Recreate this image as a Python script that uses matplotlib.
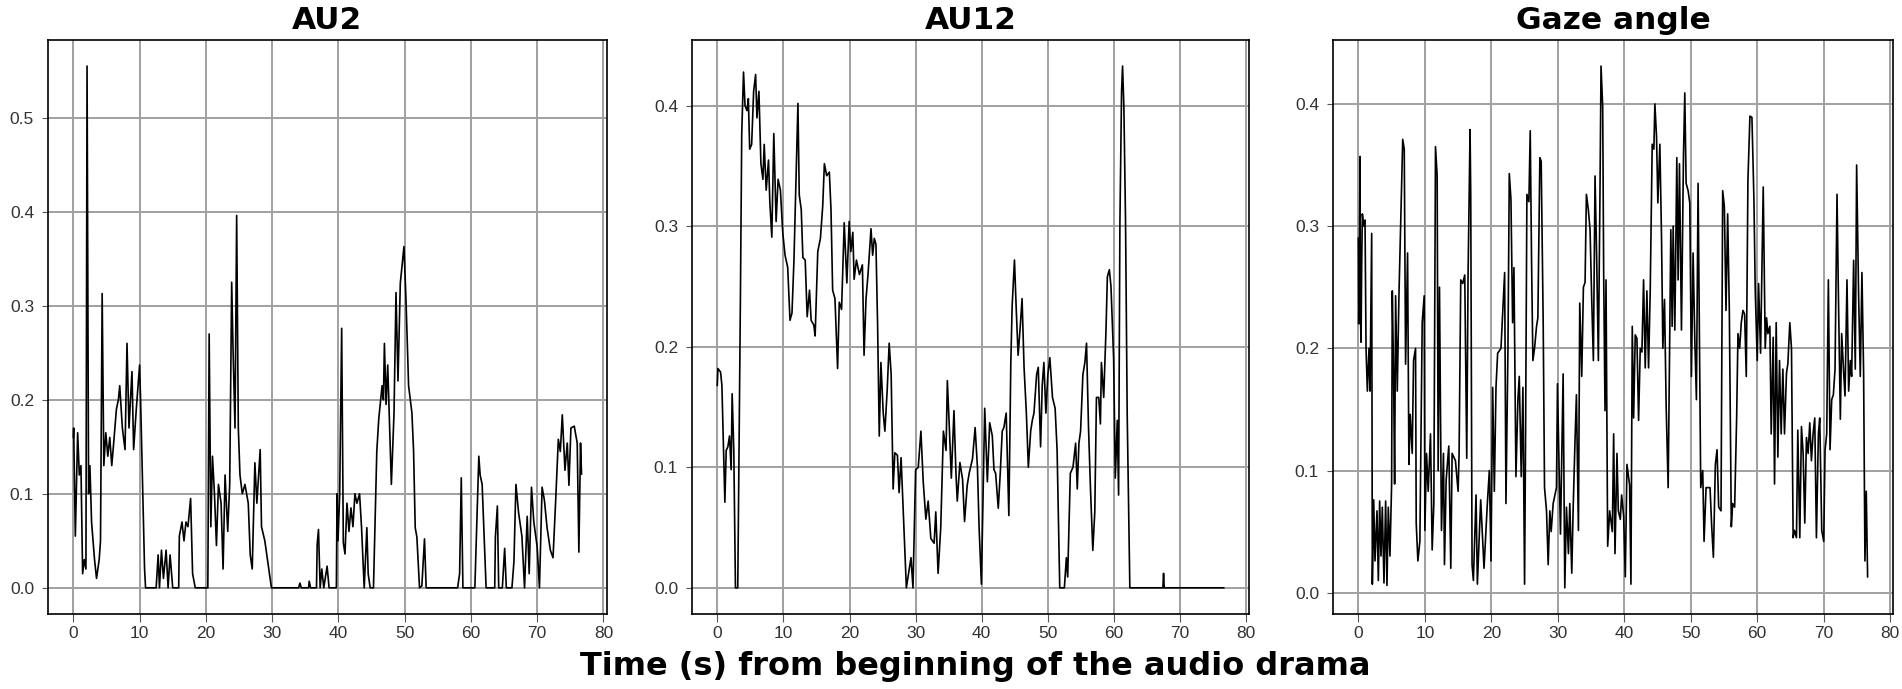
import matplotlib.pyplot as plt

# AU2 intensity over time
t_au2 = [0.0, 0.05, 0.3, 0.65, 0.9, 1.15, 1.4, 1.65, 1.9, 2.07, 2.3, 2.5, 2.75, 3.2, 3.5, 3.9, 4.1, 4.35,
         4.6, 4.9, 5.2, 5.5, 5.8, 6.1, 6.5, 6.8, 7.0, 7.4, 7.8, 8.1, 8.4, 8.85, 9.1, 9.5, 10.0, 10.15,
         10.75, 10.9, 12.5, 12.8, 13.0, 13.3, 13.6, 14.0, 14.3, 14.6, 15.0, 15.9, 16.0, 16.4, 16.7, 17.0,
         17.3, 17.7, 18.0, 18.4, 20.3, 20.5, 20.75, 21.0, 21.3, 21.6, 21.9, 22.3, 22.6, 22.9, 23.3, 23.6,
         23.9, 24.1, 24.4, 24.65, 24.9, 25.15, 25.5, 25.9, 26.4, 26.7, 27.0, 27.4, 27.7, 28.2, 28.4, 28.9,
         29.4, 29.9, 34.0, 34.2, 34.4, 35.5, 35.6, 35.8, 36.7, 36.8, 37.0, 37.25, 37.5, 37.8, 38.3, 38.6,
         39.7, 39.8, 39.95, 40.2, 40.5, 40.75, 41.0, 41.3, 41.6, 41.9, 42.2, 42.5, 42.8, 43.2, 43.5, 43.9,
         44.3, 44.5, 44.8, 45.3, 45.8, 46.1, 46.6, 46.8, 46.95, 47.2, 47.45, 47.8, 48.0, 48.4, 48.7, 49.0,
         49.35, 49.9, 50.2, 50.6, 51.1, 51.35, 51.6, 51.85, 52.25, 52.6, 53.0, 53.25, 58.0, 58.3, 58.55,
         58.8, 60.6, 61.2, 61.4, 61.7, 61.95, 62.3, 63.6, 63.7, 64.0, 64.2, 64.75, 65.1, 65.35, 66.2, 66.5,
         66.8, 67.2, 67.7, 68.1, 68.5, 68.8, 69.15, 69.5, 70.0, 70.35, 70.75, 71.1, 71.5, 72.0, 72.4, 72.8,
         73.2, 73.5, 73.8, 74.2, 74.55, 74.8, 75.1, 75.6, 76.05, 76.3, 76.55, 76.7]
au2 = [0.16, 0.17, 0.055, 0.165, 0.12, 0.13, 0.015, 0.03, 0.02, 0.555, 0.1, 0.13, 0.07, 0.03, 0.01, 0.03,
       0.05, 0.313, 0.13, 0.165, 0.14, 0.16, 0.13, 0.155, 0.19, 0.2, 0.215, 0.17, 0.147, 0.26, 0.17, 0.23,
       0.147, 0.19, 0.237, 0.2, 0.02, 0.0, 0.0, 0.035, 0.0, 0.04, 0.01, 0.04, 0.0, 0.035, 0.0, 0.0, 0.055,
       0.07, 0.05, 0.07, 0.065, 0.095, 0.015, 0.0, 0.0, 0.27, 0.065, 0.14, 0.1, 0.045, 0.11, 0.09, 0.02,
       0.12, 0.06, 0.11, 0.325, 0.255, 0.17, 0.396, 0.17, 0.12, 0.1, 0.11, 0.09, 0.035, 0.02, 0.133, 0.09,
       0.147, 0.065, 0.05, 0.025, 0.0, 0.0, 0.005, 0.0, 0.0, 0.007, 0.0, 0.0, 0.046, 0.062, 0.0, 0.02, 0.0,
       0.023, 0.0, 0.0, 0.1, 0.05, 0.1, 0.276, 0.048, 0.036, 0.09, 0.06, 0.085, 0.065, 0.1, 0.09, 0.1,
       0.064, 0.0, 0.064, 0.015, 0.0, 0.0, 0.145, 0.18, 0.215, 0.2, 0.26, 0.195, 0.237, 0.158, 0.11, 0.186,
       0.314, 0.22, 0.324, 0.363, 0.308, 0.215, 0.186, 0.146, 0.064, 0.054, 0.0, 0.002, 0.052, 0.0, 0.0,
       0.015, 0.117, 0.0, 0.0, 0.14, 0.12, 0.11, 0.065, 0.0, 0.0, 0.054, 0.087, 0.0, 0.0, 0.042, 0.0, 0.0,
       0.028, 0.11, 0.08, 0.055, 0.0, 0.076, 0.015, 0.107, 0.07, 0.044, 0.0, 0.107, 0.093, 0.064, 0.04,
       0.032, 0.093, 0.158, 0.145, 0.184, 0.125, 0.154, 0.109, 0.17, 0.172, 0.154, 0.038, 0.154, 0.121]

# AU12 intensity over time
t_au12 = [0.0, 0.1, 0.5, 0.7, 0.95, 1.15, 1.35, 1.6, 1.85, 2.1, 2.25, 2.5, 2.75, 3.1, 3.5, 3.7, 3.97, 4.2,
          4.5, 4.7, 4.9, 5.2, 5.5, 5.8, 6.0, 6.3, 6.6, 6.9, 7.1, 7.4, 7.75, 7.95, 8.25, 8.55, 8.9, 9.2, 9.55,
          9.9, 10.25, 10.65, 11.0, 11.3, 11.6, 11.9, 12.2, 12.4, 12.7, 12.95, 13.3, 13.6, 13.95, 14.2, 14.6,
          14.8, 15.2, 15.6, 15.95, 16.2, 16.55, 16.95, 17.2, 17.45, 17.8, 18.2, 18.45, 18.8, 19.2, 19.6,
          19.95, 20.2, 20.5, 20.7, 21.05, 21.5, 21.95, 22.2, 22.5, 22.8, 23.25, 23.5, 23.75, 24.0, 24.25,
          24.5, 24.75, 25.1, 25.35, 25.7, 26.0, 26.3, 26.6, 26.85, 27.25, 27.5, 27.8, 28.6, 29.3, 29.6, 30.0,
          30.4, 30.8, 31.15, 31.55, 31.9, 32.3, 32.8, 33.05, 33.4, 33.8, 34.2, 34.6, 34.8, 35.1, 35.4, 35.8,
          36.1, 36.3, 36.7, 37.1, 37.4, 37.8, 38.1, 38.6, 39.0, 39.35, 39.6, 39.95, 40.45, 40.85, 41.2, 41.6,
          41.85, 42.1, 42.5, 42.8, 43.1, 43.35, 43.7, 44.1, 44.4, 44.6, 44.95, 45.2, 45.5, 45.8, 46.1, 46.4,
          46.75, 47.05, 47.4, 47.65, 47.9, 48.3, 48.55, 48.9, 49.15, 49.4, 49.7, 50.0, 50.3, 50.7, 51.1,
          51.4, 51.8, 52.5, 52.8, 53.0, 53.4, 53.8, 54.2, 54.45, 54.7, 54.95, 55.3, 55.6, 55.85, 56.15,
          56.45, 56.8, 57.1, 57.35, 57.7, 57.95, 58.1, 58.45, 58.8, 59.0, 59.3, 59.55, 59.95, 60.2, 60.5,
          60.7, 60.9, 61.15, 61.3, 61.5, 61.75, 62.0, 62.4, 67.4, 67.5, 67.6, 76.6]
au12 = [0.168, 0.182, 0.179, 0.168, 0.114, 0.071, 0.114, 0.117, 0.126, 0.098, 0.161, 0.114, 0.0, 0.0, 0.24,
        0.377, 0.428, 0.4, 0.396, 0.406, 0.364, 0.368, 0.412, 0.426, 0.39, 0.412, 0.352, 0.339, 0.368, 0.33,
        0.355, 0.32, 0.291, 0.377, 0.304, 0.339, 0.33, 0.295, 0.276, 0.266, 0.222, 0.228, 0.272, 0.336,
        0.402, 0.326, 0.314, 0.274, 0.272, 0.225, 0.247, 0.222, 0.218, 0.209, 0.279, 0.29, 0.317, 0.352,
        0.342, 0.345, 0.314, 0.247, 0.24, 0.182, 0.237, 0.231, 0.303, 0.253, 0.304, 0.279, 0.295, 0.256,
        0.272, 0.26, 0.268, 0.193, 0.24, 0.26, 0.298, 0.276, 0.29, 0.285, 0.218, 0.126, 0.187, 0.145, 0.13,
        0.164, 0.203, 0.177, 0.082, 0.112, 0.11, 0.079, 0.108, 0.0, 0.025, 0.0, 0.098, 0.1, 0.13, 0.088,
        0.057, 0.072, 0.041, 0.037, 0.063, 0.012, 0.05, 0.13, 0.114, 0.172, 0.133, 0.091, 0.147, 0.095,
        0.072, 0.104, 0.09, 0.055, 0.085, 0.095, 0.107, 0.133, 0.1, 0.05, 0.003, 0.149, 0.088, 0.137, 0.126,
        0.098, 0.095, 0.066, 0.095, 0.13, 0.133, 0.145, 0.06, 0.187, 0.234, 0.272, 0.234, 0.193, 0.215,
        0.24, 0.183, 0.145, 0.1, 0.13, 0.139, 0.145, 0.177, 0.183, 0.117, 0.168, 0.187, 0.145, 0.177, 0.191,
        0.158, 0.149, 0.114, 0.0, 0.0, 0.025, 0.009, 0.095, 0.1, 0.12, 0.082, 0.12, 0.13, 0.177, 0.187,
        0.203, 0.133, 0.082, 0.031, 0.063, 0.158, 0.158, 0.136, 0.187, 0.158, 0.215, 0.258, 0.264, 0.25,
        0.19, 0.091, 0.139, 0.077, 0.304, 0.412, 0.433, 0.399, 0.304, 0.145, 0.0, 0.0, 0.012, 0.0, 0.0]

# gaze angle over time
t_gaze = [0.0, 0.05, 0.15, 0.25, 0.3, 0.4, 0.5, 0.6, 0.8, 1.0, 1.15, 1.35, 1.6, 1.75, 2.0, 2.1, 2.3, 2.5,
          2.8, 3.0, 3.2, 3.4, 3.6, 3.85, 4.1, 4.3, 4.5, 4.75, 5.0, 5.1, 5.3, 5.45, 5.6, 5.85, 6.1, 6.67,
          6.9, 7.1, 7.4, 7.6, 7.8, 8.1, 8.3, 8.6, 8.7, 8.95, 9.25, 9.6, 9.9, 10.0, 10.25, 10.5, 10.85, 11.1,
          11.35, 11.6, 11.85, 12.0, 12.2, 12.5, 12.8, 12.95, 13.2, 13.6, 13.9, 14.1, 14.6, 15.0, 15.15,
          15.4, 15.7, 16.0, 16.3, 16.5, 16.8, 16.9, 17.1, 17.3, 17.7, 17.9, 18.4, 18.9, 19.4, 19.7, 19.95,
          20.2, 20.45, 20.7, 20.95, 21.45, 22.0, 22.2, 22.5, 22.7, 22.95, 23.2, 23.4, 23.7, 24.0, 24.2,
          24.5, 24.75, 25.0, 25.15, 25.35, 25.65, 25.85, 26.05, 26.25, 26.5, 26.8, 27.0, 27.3, 27.5, 27.8,
          28.0, 28.3, 28.55, 28.8, 29.0, 29.3, 29.8, 29.95, 30.15, 30.4, 30.8, 31.05, 31.3, 31.6, 31.8,
          32.1, 32.3, 32.6, 32.8, 33.1, 33.3, 33.6, 33.85, 34.1, 34.3, 34.6, 34.85, 35.1, 35.35, 35.6,
          35.85, 36.1, 36.35, 36.5, 36.75, 36.9, 37.1, 37.25, 37.5, 37.8, 38.2, 38.4, 38.6, 38.9, 39.1,
          39.4, 39.6, 39.9, 40.15, 40.4, 40.8, 41.0, 41.2, 41.4, 41.65, 41.9, 42.15, 42.4, 42.65, 42.9,
          43.15, 43.4, 43.65, 43.9, 44.2, 44.45, 44.6, 44.85, 45.05, 45.35, 45.6, 45.8, 46.05, 46.3, 46.6,
          46.7, 47.0, 47.2, 47.35, 47.6, 47.9, 48.1, 48.3, 48.6, 48.9, 49.1, 49.3, 49.6, 49.85, 50.1,
          50.35, 50.6, 50.85, 51.1, 51.35, 51.5, 51.8, 52.0, 52.3, 52.6, 52.9, 53.15, 53.4, 53.7, 53.95,
          54.2, 54.55, 54.8, 55.05, 55.3, 55.55, 55.8, 56.1, 56.3, 56.6, 56.9, 57.1, 57.35, 57.6, 57.85,
          58.1, 58.35, 58.6, 58.9, 59.2, 59.5, 59.7, 60.0, 60.2, 60.5, 60.9, 61.2, 61.4, 61.6, 61.9, 62.1,
          62.4, 62.6, 62.85, 63.1, 63.35, 63.6, 63.85, 64.1, 64.4, 64.6, 64.9, 65.15, 65.4, 65.6, 65.9,
          66.1, 66.4, 66.65, 66.9, 67.15, 67.4, 67.65, 67.9, 68.15, 68.4, 68.65, 68.9, 69.2, 69.4, 69.7,
          70.0, 70.2, 70.45, 70.7, 70.95, 71.2, 71.45, 71.7, 72.0, 72.2, 72.5, 72.7, 73.0, 73.2, 73.5,
          73.75, 74.0, 74.2, 74.5, 74.75, 74.95, 75.25, 75.5, 75.75, 76.0, 76.2, 76.4, 76.6]
gaze = [0.29, 0.22, 0.28, 0.357, 0.23, 0.205, 0.27, 0.31, 0.3, 0.305, 0.2, 0.165, 0.2, 0.165, 0.294, 0.007,
        0.076, 0.026, 0.067, 0.01, 0.075, 0.03, 0.07, 0.008, 0.075, 0.006, 0.07, 0.03, 0.089, 0.247, 0.177,
        0.089, 0.243, 0.165, 0.243, 0.371, 0.363, 0.187, 0.278, 0.105, 0.146, 0.114, 0.19, 0.2, 0.057,
        0.026, 0.042, 0.221, 0.243, 0.051, 0.114, 0.083, 0.13, 0.035, 0.073, 0.365, 0.341, 0.1, 0.25,
        0.051, 0.114, 0.023, 0.092, 0.12, 0.02, 0.114, 0.108, 0.083, 0.114, 0.256, 0.253, 0.26, 0.11,
        0.26, 0.379, 0.326, 0.023, 0.01, 0.08, 0.007, 0.076, 0.02, 0.073, 0.1, 0.026, 0.168, 0.083, 0.168,
        0.196, 0.2, 0.262, 0.073, 0.2, 0.343, 0.322, 0.221, 0.266, 0.095, 0.158, 0.177, 0.095, 0.168,
        0.007, 0.13, 0.326, 0.32, 0.378, 0.272, 0.19, 0.2, 0.218, 0.225, 0.356, 0.353, 0.221, 0.086,
        0.067, 0.023, 0.067, 0.05, 0.073, 0.086, 0.171, 0.114, 0.048, 0.179, 0.004, 0.07, 0.032, 0.073,
        0.016, 0.067, 0.127, 0.162, 0.051, 0.237, 0.177, 0.25, 0.254, 0.326, 0.313, 0.297, 0.24, 0.19,
        0.341, 0.272, 0.19, 0.332, 0.431, 0.398, 0.26, 0.149, 0.256, 0.038, 0.067, 0.05, 0.13, 0.032,
        0.114, 0.067, 0.06, 0.08, 0.063, 0.013, 0.105, 0.088, 0.007, 0.218, 0.143, 0.211, 0.208, 0.141,
        0.2, 0.197, 0.256, 0.184, 0.247, 0.184, 0.247, 0.367, 0.363, 0.4, 0.373, 0.319, 0.367, 0.291, 0.2,
        0.24, 0.152, 0.086, 0.139, 0.297, 0.218, 0.3, 0.215, 0.356, 0.256, 0.351, 0.215, 0.357, 0.409,
        0.335, 0.329, 0.319, 0.177, 0.278, 0.209, 0.158, 0.335, 0.177, 0.086, 0.1, 0.042, 0.086, 0.086,
        0.086, 0.054, 0.029, 0.105, 0.117, 0.07, 0.067, 0.329, 0.316, 0.231, 0.31, 0.231, 0.054, 0.073,
        0.07, 0.143, 0.212, 0.2, 0.221, 0.231, 0.228, 0.177, 0.338, 0.39, 0.389, 0.322, 0.247, 0.19, 0.253,
        0.196, 0.332, 0.2, 0.225, 0.212, 0.218, 0.13, 0.209, 0.089, 0.221, 0.111, 0.19, 0.13, 0.183, 0.13,
        0.18, 0.187, 0.221, 0.2, 0.045, 0.051, 0.045, 0.133, 0.045, 0.136, 0.114, 0.057, 0.127, 0.114,
        0.139, 0.108, 0.13, 0.143, 0.045, 0.13, 0.143, 0.051, 0.042, 0.117, 0.13, 0.256, 0.117, 0.158,
        0.162, 0.183, 0.326, 0.247, 0.142, 0.212, 0.18, 0.161, 0.256, 0.165, 0.19, 0.177, 0.272, 0.183,
        0.35, 0.243, 0.177, 0.262, 0.18, 0.026, 0.083, 0.013]

titles = ['AU2', 'AU12', 'Gaze angle']
xticks = [0, 10, 20, 30, 40, 50, 60, 70, 80]
series = [(t_au2, au2), (t_au12, au12), (t_gaze, gaze)]

fig = plt.figure(figsize=(19.02, 6.89), dpi=100)
lefts = [0.0252, 0.3638, 0.7008]
widths = [0.2939, 0.2929, 0.2945]

for i in range(3):
    ax = fig.add_axes([lefts[i], 0.109, widths[i], 0.833])
    t, v = series[i]
    ax.plot(t, v, color='black', linewidth=1.2)
    ax.set_title(titles[i], fontsize=22.5, fontweight='bold', pad=8)
    ax.set_xticks(xticks)
    ax.grid(True, color='#a0a0a0', linewidth=1.4)
    ax.set_axisbelow(True)
    ax.tick_params(axis='x', length=5.5, pad=3.5)
    ax.tick_params(axis='y', length=4, pad=6)
    ax.tick_params(colors='#555555', labelcolor='#333333')
    for lab in ax.get_xticklabels() + ax.get_yticklabels():
        lab.set_family('Liberation Sans')
        lab.set_fontsize(12.5)
    for s in ax.spines.values():
        s.set_color('black')
        s.set_linewidth(1.2)

fig.text(0.5126, 0.0203, 'Time (s) from beginning of the audio drama', ha='center', va='baseline',
         fontsize=23, fontweight='bold')

plt.savefig('out.png', dpi=100)
